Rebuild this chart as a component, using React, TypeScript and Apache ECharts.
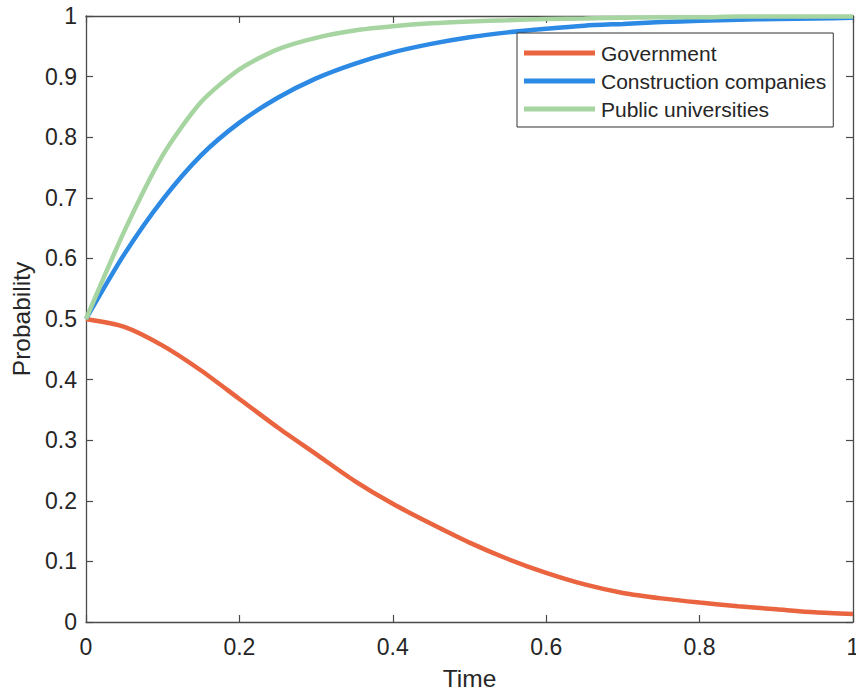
import React, { useEffect, useRef } from "react";
import * as echarts from "echarts";

const timePoints = [0, 0.05, 0.1, 0.15, 0.2, 0.25, 0.3, 0.35, 0.4, 0.45, 0.5, 0.55, 0.6, 0.65, 0.7, 0.75, 0.8, 0.85, 0.9, 0.95, 1.0];
const government = [0.5, 0.487, 0.456, 0.415, 0.368, 0.321, 0.277, 0.233, 0.195, 0.162, 0.131, 0.104, 0.081, 0.062, 0.048, 0.039, 0.032, 0.026, 0.021, 0.016, 0.013];
const construction = [0.5, 0.607, 0.697, 0.77, 0.824, 0.865, 0.897, 0.921, 0.94, 0.954, 0.965, 0.973, 0.979, 0.984, 0.987, 0.99, 0.992, 0.994, 0.995, 0.996, 0.997];
const universities = [0.5, 0.645, 0.77, 0.858, 0.912, 0.945, 0.964, 0.976, 0.983, 0.988, 0.991, 0.993, 0.995, 0.996, 0.997, 0.998, 0.998, 0.999, 0.999, 0.999, 0.999];
const seriesNames = ["Government", "Construction companies", "Public universities"];
const seriesColors = ["#E9643F", "#2C89E4", "#A6D5A1"];

const FONT = "'Liberation Sans', Arial, Helvetica, sans-serif";
const AXIS_COLOR = "#4a4a4a";
const TEXT_COLOR = "#262626";

export default function App() {
  const ref = useRef<HTMLDivElement>(null);
  useEffect(() => {
    if (!ref.current) return;
    const chart = echarts.init(ref.current, undefined, { renderer: "svg" });
    const toPairs = (vals: number[]) => timePoints.map((t, i) => [t, vals[i]]);
    const datasets = [government, construction, universities];
    const tickFmt = (v: number) => (Math.abs(v - Math.round(v)) < 1e-9 ? String(Math.round(v)) : String(Number(v.toFixed(1))));
    const baseAxisLine = { show: true, onZero: false, lineStyle: { color: AXIS_COLOR, width: 1.3 } };
    const baseTick = { show: true, inside: true, length: 7, lineStyle: { color: AXIS_COLOR, width: 1.2 } };
    chart.setOption({
      animation: false,
      backgroundColor: "#ffffff",
      grid: { left: 86, right: 3, top: 16, bottom: 75, containLabel: false, outerBoundsMode: "none" },
      legend: {
        show: true,
        data: seriesNames,
        orient: "vertical",
        left: 517,
        top: 33,
        padding: [9, 7, 7, 7],
        itemGap: 6,
        itemWidth: 71,
        itemHeight: 5,
        icon: "rect",
        borderColor: "#333333",
        borderWidth: 1,
        backgroundColor: "#ffffff",
        textStyle: { fontFamily: FONT, fontSize: 21, color: TEXT_COLOR, lineHeight: 22, padding: [0, 0, 0, 1] },
      },
      xAxis: [
        {
          type: "value",
          position: "bottom",
          min: 0,
          max: 1,
          interval: 0.2,
          name: "Time",
          nameLocation: "middle",
          nameGap: 44,
          nameTextStyle: { fontFamily: FONT, fontSize: 24.5, color: TEXT_COLOR },
          axisLine: baseAxisLine,
          axisTick: baseTick,
          axisLabel: { fontFamily: FONT, fontSize: 23, color: TEXT_COLOR, margin: 13, formatter: tickFmt, hideOverlap: false },
          splitLine: { show: false },
        },
        {
          type: "value",
          position: "top",
          min: 0,
          max: 1,
          interval: 0.2,
          axisLine: baseAxisLine,
          axisTick: baseTick,
          axisLabel: { show: false },
          splitLine: { show: false },
        },
      ],
      yAxis: [
        {
          type: "value",
          position: "left",
          min: 0,
          max: 1,
          interval: 0.1,
          name: "Probability",
          nameLocation: "middle",
          nameGap: 52,
          nameTextStyle: { fontFamily: FONT, fontSize: 24.5, color: TEXT_COLOR },
          axisLine: baseAxisLine,
          axisTick: baseTick,
          axisLabel: { fontFamily: FONT, fontSize: 23, color: TEXT_COLOR, margin: 9, formatter: tickFmt },
          splitLine: { show: false },
        },
        {
          type: "value",
          position: "right",
          min: 0,
          max: 1,
          interval: 0.1,
          axisLine: baseAxisLine,
          axisTick: baseTick,
          axisLabel: { show: false },
          splitLine: { show: false },
        },
      ],
      series: seriesNames.map((name, i) => ({
        name,
        type: "line",
        xAxisIndex: 0,
        yAxisIndex: 0,
        data: toPairs(datasets[i]),
        smooth: 0.25,
        showSymbol: false,
        symbol: "none",
        clip: true,
        color: seriesColors[i],
        lineStyle: { color: seriesColors[i], width: 4.5 },
        z: 2 + i,
      })),
    });
    return () => chart.dispose();
  }, []);
  return <div ref={ref} style={{ width: 856, height: 697, position: "absolute", left: 0, top: 0 }} />;
}
